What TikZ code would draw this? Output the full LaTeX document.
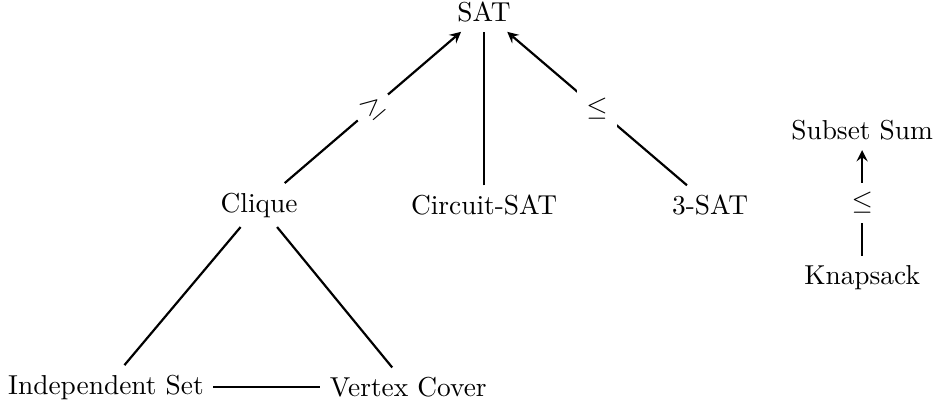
\documentclass[tikz,border=0pt]{standalone}
\usepackage{amssymb}

\begin{document}
\begin{tikzpicture}[riduz/.style={thick,-stealth},
                    lega/.style={thick},
                    rel/.style={fill=white}]
                \useasboundingbox (0,0) rectangle (12.0,5.225);

                \node (sat) at (6.213, 5.07) {SAT};
                \node (clique) at (3.325, 2.593) {Clique};
                \node (csat) at (6.213, 2.593) {Circuit-SAT};
                \node (tsat) at (9.114, 2.593) {3-SAT};
                \node (ssum) at (11.065, 3.55) {Subset Sum};
                \node (knap) at (11.065, 1.66) {Knapsack};
                \node (indset) at (1.36, 0.257) {Independent Set};
                \node (vcover) at (5.24, 0.257) {Vertex Cover};

                \draw [riduz](clique) -- (sat) node[rel,sloped,pos=.5] {$\geq$};
                \draw [lega](csat) -- (sat);
                \draw [riduz](tsat) -- (sat) node[rel,pos=.5] {$\leq$};
                \draw [riduz](knap) -- (ssum) node[rel,pos=.5] {$\leq$};

                \draw [lega](clique) -- (indset);
                \draw [lega](clique) -- (vcover);
                \draw [lega](indset) -- (vcover);
            \end{tikzpicture}
\end{document}
